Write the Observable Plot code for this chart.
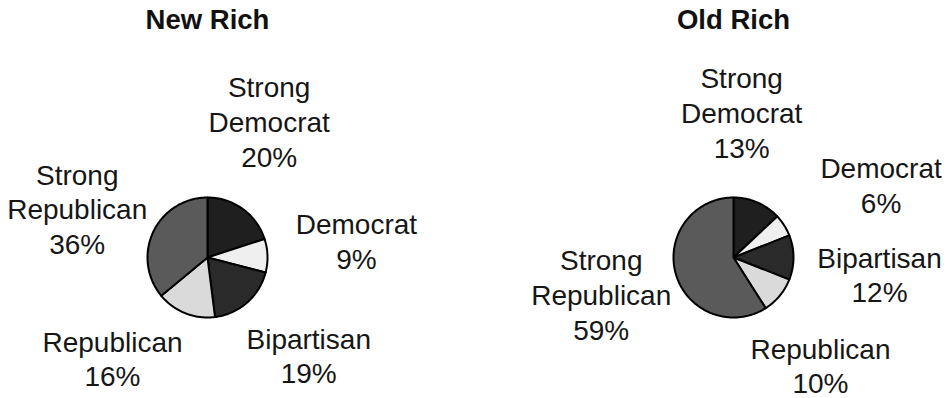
<!DOCTYPE html>
<html>
<head>
<meta charset="utf-8">
<script src="https://cdn.jsdelivr.net/npm/d3@7"></script>
<script src="https://cdn.jsdelivr.net/npm/@observablehq/plot@0.6"></script>
<style>
  html, body { margin: 0; padding: 0; background: #fff; }
  #wrap { display: flex; flex-direction: row; width: 951px; height: 398px; }
</style>
</head>
<body>
<div id="wrap"></div>
<script>
// ---- data ----
const categories = ["Strong Democrat", "Democrat", "Bipartisan", "Republican", "Strong Republican"];
const panels = ["New Rich", "Old Rich"];
const newRichValues = [20, 9, 19, 16, 36];
const oldRichValues = [13, 6, 12, 10, 59];

// ---- styles / layout ----
const shades = ["#1f1f1f", "#efefef", "#2a2a2a", "#dadada", "#5a5a5a"];
const PX = 60;          // pixels per pie radius
const CY = 257;         // pie centre from top (px)
const H = 398;
const labelRadius = 2.4;
const layout = {
  "New Rich": { width: 475, cx: 207,
    nudge: [[-23, -20], [5, -12.5], [6, -10.5], [-42, -33.4], [0, 12]] },
  "Old Rich": { width: 476, cx: 258,
    nudge: [[-49, -13.5], [26, 4], [2, 16.5], [-24, 15.5], [6, -4]] }
};
const font = "'Liberation Sans', Arial, Helvetica, sans-serif";

function pie(title, values) {
  const lay = layout[title];
  const total = d3.sum(values);
  const rad = Math.PI / 180;
  const pts = [];
  const labels = [];
  let acc = 0;
  values.forEach((v, i) => {
    const a0 = acc / total * 360;
    const a1 = (acc + v) / total * 360;
    acc += v;
    const cat = categories[i];
    pts.push({ id: i, cat, x: 0, y: 0 });
    const n = Math.max(2, Math.ceil(a1 - a0));
    for (let k = 0; k <= n; k++) {
      const a = (a0 + (a1 - a0) * k / n) * rad;
      pts.push({ id: i, cat, x: Math.sin(a), y: Math.cos(a) });
    }
    const mid = (a0 + a1) / 2 * rad;
    const [nx, ny] = lay.nudge[i];
    labels.push({
      x: labelRadius * Math.sin(mid) + nx / PX,
      y: labelRadius * Math.cos(mid) - ny / PX,
      text: cat.replace(" ", "\n") + "\n" + v + "%"
    });
  });

  return Plot.plot({
    width: lay.width,
    height: H,
    margin: 0,
    style: { fontFamily: font, background: "#fff", overflow: "visible" },
    x: { domain: [-lay.cx / PX, (lay.width - lay.cx) / PX], axis: null },
    y: { domain: [-(H - CY) / PX, CY / PX], axis: null },
    color: { domain: categories, range: shades },
    marks: [
      Plot.line(pts, {
        x: "x", y: "y", z: "id", fill: "cat",
        stroke: "#000", strokeWidth: 2, strokeLinejoin: "round",
        curve: "linear-closed"
      }),
      Plot.text(labels, {
        x: "x", y: "y", text: "text",
        fontSize: 28, lineHeight: 1.24, fill: "#161616",
        lineAnchor: "middle", textAnchor: "middle"
      }),
      Plot.text([{ x: 0, t: title }], {
        x: "x", text: "t", frameAnchor: "top", lineAnchor: "top",
        dy: 9, fontSize: 27.5, fontWeight: "bold", fill: "#111"
      })
    ]
  });
}

const wrap = document.getElementById("wrap");
wrap.appendChild(pie(panels[0], newRichValues));
wrap.appendChild(pie(panels[1], oldRichValues));
</script>
</body>
</html>
